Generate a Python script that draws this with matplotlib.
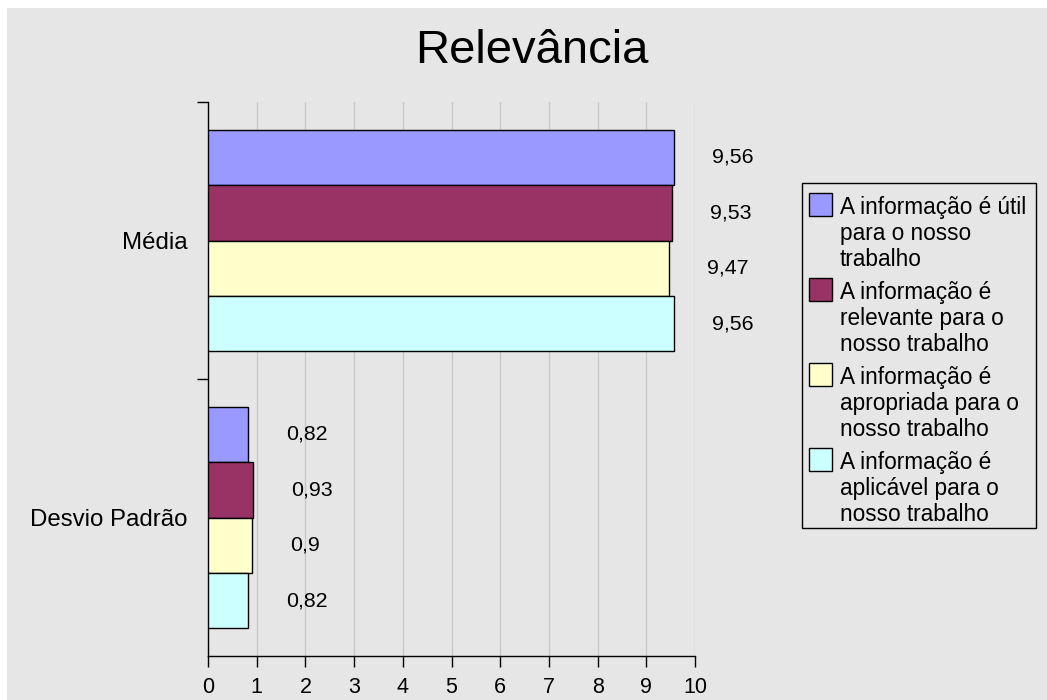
import matplotlib
matplotlib.use("Agg")
import matplotlib.pyplot as plt
from matplotlib.patches import Rectangle

plt.rcParams['font.family'] = ['Liberation Sans', 'DejaVu Sans']

categories = ["Média", "Desvio Padrão"]
series_labels = [
    "A informação é útil\npara o nosso\ntrabalho",
    "A informação é\nrelevante para o\nnosso trabalho",
    "A informação é\napropriada para o\nnosso trabalho",
    "A informação é\naplicável para o\nnosso trabalho",
]
series_values = [
    [9.56, 0.82],
    [9.53, 0.93],
    [9.47, 0.90],
    [9.56, 0.82],
]
series_colors = ["#9999FF", "#993366", "#FFFFCC", "#CCFFFF"]
x_ticks = list(range(0, 11))

W, H = 1047, 700
BG = "#E6E6E6"

fig = plt.figure(figsize=(W / 100, H / 100), dpi=100, facecolor="white")
# grey chart background (thin white strip on top and left)
fig.add_artist(Rectangle((7 / W, 0), 1 - 7 / W, (H - 8) / H,
                         transform=fig.transFigure, facecolor=BG,
                         edgecolor="none", zorder=-10))


def fx(px):
    return px / W


def fy(py):
    return 1 - py / H


ax = fig.add_axes([fx(208), fy(656), (695 - 208) / W, (656 - 102) / H])
ax.set_facecolor(BG)

n = len(series_values)
bar_h = 0.8 / n
for i, (vals, col) in enumerate(zip(series_values, series_colors)):
    ys = [c + 0.5 + (i - (n - 1) / 2) * bar_h for c in range(len(categories))]
    ax.barh(ys, vals, height=bar_h, color=col, edgecolor="black",
            linewidth=1.0, zorder=3)
    for y, v in zip(ys, vals):
        ax.annotate(f"{v:g}".replace(".", ","), xy=(v, y),
                    xytext=(27.4, 0), textcoords="offset points",
                    ha="left", va="center", fontsize=15.4, color="black")

ax.set_xlim(0, 10)
ax.set_ylim(len(categories), 0)
ax.set_xticks(x_ticks)
ax.set_xticklabels([str(t) for t in x_ticks])
ax.xaxis.grid(True, color="#C8C8C8", linewidth=1.0, zorder=0)
ax.set_axisbelow(True)

ax.set_yticks(range(len(categories)))
ax.set_yticklabels([])
ax.set_yticks([c + 0.5 for c in range(len(categories))], minor=True)
ax.set_yticklabels(categories, minor=True)
ax.tick_params(axis="y", which="major", direction="out", length=8, width=1)
ax.tick_params(axis="y", which="minor", length=0, pad=14.4, labelsize=17.3)
ax.tick_params(axis="x", direction="out", length=8, width=1, pad=7,
               labelsize=15.5)

for side in ("top", "right"):
    ax.spines[side].set_visible(False)
for side in ("left", "bottom"):
    ax.spines[side].set_color("black")
    ax.spines[side].set_linewidth(1.0)

# title
fig.text(fx(532), fy(63), "Relevância", ha="center", va="baseline",
         fontsize=34, color="black")

# legend box
fig.add_artist(Rectangle((fx(802), fy(528)), (1036 - 802) / W, (528 - 183) / H,
                         transform=fig.transFigure, facecolor=BG,
                         edgecolor="black", linewidth=1.0))
for i, (lab, col) in enumerate(zip(series_labels, series_colors)):
    top = 193 + i * 85
    fig.add_artist(Rectangle((fx(809), fy(top + 23)), 23 / W, 23 / H,
                             transform=fig.transFigure, facecolor=col,
                             edgecolor="black", linewidth=1.0))
    fig.text(fx(840), fy(top + 3), lab, ha="left", va="top",
             fontsize=16.3, linespacing=1.16, color="black")

fig.savefig("out.png", dpi=100, facecolor=fig.get_facecolor())
